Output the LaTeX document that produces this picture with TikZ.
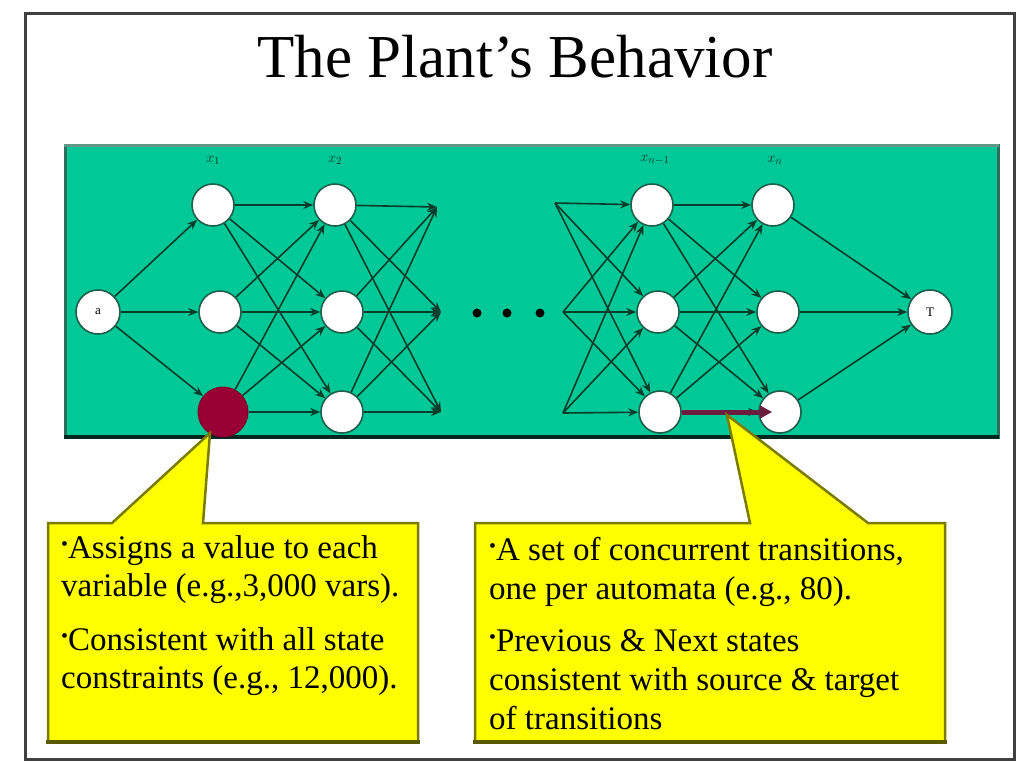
\documentclass[tikz,border=0pt]{standalone}
\usepackage{fontspec}
\setmainfont{Liberation Serif}
\usepackage{graphicx}
\usetikzlibrary{arrows.meta}
\definecolor{plantgreen}{HTML}{00C896}
\definecolor{plantedge}{HTML}{0A3C2C}
\definecolor{nodering}{HTML}{1E5E4B}
\definecolor{frameteal}{HTML}{2D6E5C}
\definecolor{frametop}{HTML}{5F9888}
\definecolor{maroon}{HTML}{990033}
\definecolor{arrowred}{HTML}{6B1D3F}
\definecolor{calloutfill}{HTML}{FFFF00}
\definecolor{calloutline}{HTML}{7B7B00}
\definecolor{calloutdark}{HTML}{5A5A00}
\newcommand{\bul}{\raisebox{0.55ex}{\scalebox{0.6}{•}}}
\begin{document}
\begin{tikzpicture}[x=1pt,y=-1pt,
  st/.style={circle, draw=nodering, line width=1.6pt, fill=white, minimum size=42pt, inner sep=0pt},
  bigst/.style={st, minimum size=44pt, font=\fontsize{13}{13}\selectfont},
  redst/.style={circle, fill=maroon, draw=maroon!80!black, line width=1pt, minimum size=50pt, inner sep=0pt},
  ed/.style={draw=plantedge, line width=1.6pt, -{Stealth[length=10pt,width=8pt]}},
  lab/.style={font=\fontsize{15}{15}\selectfont, text=plantedge, inner sep=0pt},
  dotn/.style={circle, fill=black, minimum size=9pt, inner sep=0pt},
  callout/.style={fill=calloutfill, draw=calloutline, line width=2.5pt, line join=miter},
  ctext/.style={anchor=north west, inner sep=0pt, align=left, font=\fontsize{33}{38}\selectfont}
]
\useasboundingbox (0,0) rectangle (1032,761);
\fill[white] (0,0) rectangle (1032,761);
% outer frame
\draw[line width=3pt, draw=black!75] (25,13) rectangle (1014,759);
% title
\node[anchor=base, inner sep=0pt, font=\fontsize{61}{70}\selectfont] (title) at (515,77) {The Plant’s Behavior};
% green panel
\fill[plantgreen] (65,145) rectangle (998,437);
\draw[frameteal, line width=3pt] (65,145) rectangle (998,437);
\draw[frametop, line width=3pt] (64,145) -- (999,145);
\draw[black!80!plantgreen, line width=3.5pt] (64,437) -- (999,437);

% column labels
\node[lab] (lx1) at (213,160) {$x_{1}$};
\node[lab] (lx2) at (335,160) {$x_{2}$};
\node[lab] (lxn1) at (655,160) {$x_{n-1}$};
\node[lab] (lxn) at (775,160) {$x_{n}$};

% nodes
\node[bigst] (a) at (98,312) {a};
\node[st] (c1t) at (213,205) {};
\node[st] (c1m) at (220,312) {};
\node[redst] (c1b) at (223,412) {};
\node[st] (c2t) at (335,205) {};
\node[st] (c2m) at (342,312) {};
\node[st] (c2b) at (342,412) {};
\coordinate (e3t) at (437,207);
\coordinate (e3m) at (441,312);
\coordinate (e3b) at (441,412);
\node[dotn] (d1) at (477,313) {};
\node[dotn] (d2) at (507,313) {};
\node[dotn] (d3) at (540,313) {};
\coordinate (sNt) at (555,203);
\coordinate (sNm) at (563,312);
\coordinate (sNb) at (563,413);
\node[st] (cpt) at (652,205) {};
\node[st] (cpm) at (658,312) {};
\node[st] (cpb) at (660,412) {};
\node[st] (cnt) at (773,205) {};
\node[st] (cnm) at (778,312) {};
\node[st] (cnb) at (780,412) {};
\node[bigst] (T) at (930,312) {T};

% edges
\foreach \t in {c1t,c1m,c1b} \draw[ed] (a) -- (\t);
\foreach \s in {c1t,c1m,c1b} \foreach \t in {c2t,c2m,c2b} \draw[ed] (\s) -- (\t);
\foreach \s in {c2t,c2m,c2b} \foreach \t in {e3t,e3m,e3b} \draw[ed] (\s) -- (\t);
\foreach \s in {sNt,sNm,sNb} \foreach \t in {cpt,cpm,cpb} \draw[ed] (\s) -- (\t);
\foreach \s in {cpt,cpm,cpb} \foreach \t in {cnt,cnm,cnb} \draw[ed] (\s) -- (\t);
\foreach \s in {cnt,cnm,cnb} \draw[ed] (\s) -- (T);

% highlighted transition
\draw[arrowred, line width=5pt, -{Triangle[length=12pt,width=12pt]}, shorten >=-14pt] (cpb) -- (cnb);

% callouts
\coordinate (tipL) at (210,433);
\coordinate (tipR) at (727,415);
\draw[callout] (48,523) -- (112,523) -- (tipL) -- (203,523) -- (418,523) -- (418,742) -- (48,742) -- cycle;
\draw[calloutdark, line width=4pt] (46,742) -- (420,742);
\draw[callout] (475,523) -- (750,523) -- (tipR) -- (868,523) -- (945,523) -- (945,742) -- (475,742) -- cycle;
\draw[calloutdark, line width=4pt] (473,742) -- (947,742);

\node[ctext] (tl) at (61,535.5) {\bul Assigns a value to each\\variable (e.g.,3,000 vars).\\[16pt]\bul Consistent with all state\\constraints (e.g., 12,000).};
\node[ctext, font=\fontsize{33}{39}\selectfont] (tr) at (489,537.5) {\bul A set of concurrent transitions,\\one per automata (e.g., 80).\\[13pt]\bul Previous \& Next states\\consistent with source \& target\\of transitions};
\end{tikzpicture}
\end{document}
